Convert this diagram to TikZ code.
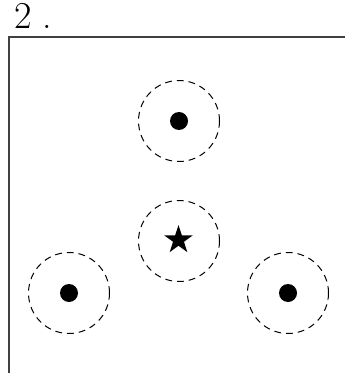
\documentclass[tikz,border=0pt]{standalone}
\usepackage{fontspec}
\setmainfont{Latin Modern Roman}
\usetikzlibrary{shapes.geometric}
\begin{document}
\begin{tikzpicture}[x=0.5pt,y=-0.5pt,
  ring/.style={circle,draw,dashed,dash pattern=on 3.4pt off 2.5pt,line width=0.5pt,minimum size=40.5pt,inner sep=0pt,outer sep=0pt},
  dotnode/.style={circle,fill=black,minimum size=9pt,inner sep=0pt},
  starnode/.style={star,star points=5,star point ratio=2.618,fill=black,minimum size=15pt,inner sep=0pt},
  frame/.style={line width=0.75pt,draw=black!75}]
\useasboundingbox (0,0) rectangle (345,373);
\node[anchor=base west,inner sep=0pt,font=\fontsize{19}{22}\selectfont] (lbl) at (14,29) {2\hspace{5.5pt}.};
\coordinate (fb) at (9,373);
\coordinate (fc) at (9,37);
\coordinate (fr) at (345,37);
\draw[frame] (fb) -- (fc) -- (fr);
\node[ring] (rt) at (179,121) {};
\node[dotnode] (dt) at (rt.center) {};
\node[ring] (rm) at (179,241) {};
\node[starnode] (sm) at (178.5,240) {};
\node[ring] (rl) at (69,293) {};
\node[dotnode] (dl) at (rl.center) {};
\node[ring] (rr) at (288,293) {};
\node[dotnode] (dr) at (rr.center) {};
\end{tikzpicture}
\end{document}
